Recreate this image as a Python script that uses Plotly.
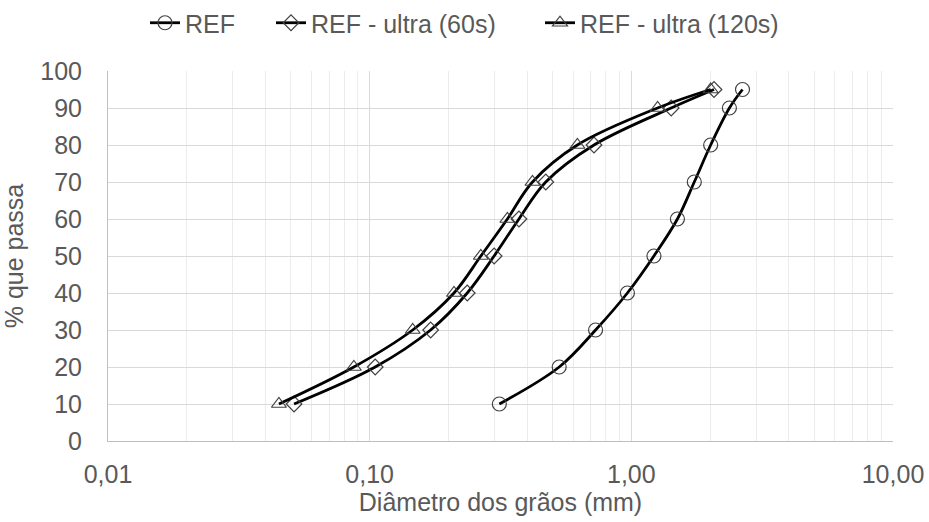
import plotly.graph_objects as go

pct = [10, 20, 30, 40, 50, 60, 70, 80, 90, 95]
ref_d = [0.313, 0.53, 0.73, 0.966, 1.22, 1.50, 1.74, 2.01, 2.37, 2.66]
ultra60_d = [0.0514, 0.105, 0.171, 0.236, 0.299, 0.372, 0.471, 0.72, 1.42, 2.07]
ultra120_d = [0.045, 0.087, 0.146, 0.210, 0.266, 0.336, 0.419, 0.622, 1.26, 2.01]

x_tickvals = [0.01, 0.1, 1, 10]
x_ticktext = ["0,01", "0,10", "1,00", "10,00"]

FONT = "Liberation Sans, Arial, sans-serif"
GRAY = "#595959"
FS = 25

fig = go.Figure()
series = [
    ("REF", ref_d, "circle-open", 14, "legend", 145),
    ("REF - ultra (60s)", ultra60_d, "diamond-open", 12, "legend2", 271),
    ("REF - ultra (120s)", ultra120_d, "triangle-up-open", 13, "legend3", 540),
]
legends = {}
for name, xs, sym, sz, lg, lx in series:
    fig.add_trace(go.Scatter(
        x=xs, y=pct, name=name, mode="lines+markers", legend=lg,
        line=dict(color="black", width=2.8, shape="spline", smoothing=1.0),
        marker=dict(symbol=sym, size=sz, color="#404040", line=dict(width=1.2, color="#404040")),
    ))
    legends[lg] = dict(orientation="h", x=lx / 929, xanchor="left", xref="container",
                       y=1.0, yanchor="top", yref="container",
                       font=dict(size=FS, color=GRAY), bgcolor="rgba(0,0,0,0)")

fig.update_layout(
    width=929, height=522,
    margin=dict(l=108, r=36, t=71, b=81, autoexpand=False),
    plot_bgcolor="white", paper_bgcolor="white",
    font=dict(family=FONT, size=FS, color=GRAY),
    showlegend=True,
    **legends,
)

fig.update_xaxes(
    type="log", range=[-2, 1], automargin=False,
    tickvals=x_tickvals, ticktext=x_ticktext,
    showgrid=True, gridcolor="#d9d9d9", gridwidth=1,
    minor=dict(dtick="D1", showgrid=True, gridcolor="#ececec", gridwidth=1, ticks=""),
    showline=True, linecolor="#bfbfbf", linewidth=1,
    ticks="", tickfont=dict(size=FS, color=GRAY), ticklabelstandoff=11,
    title=dict(text="Diâmetro dos grãos (mm)", font=dict(size=FS, color=GRAY), standoff=2),
    zeroline=False,
)
fig.update_yaxes(
    range=[0, 100], dtick=10, tick0=0, automargin=False,
    showgrid=True, gridcolor="#d9d9d9", gridwidth=1,
    showline=True, linecolor="#bfbfbf", linewidth=1,
    ticks="", tickfont=dict(size=FS, color=GRAY), ticklabelstandoff=20,
    title=dict(text="% que passa", font=dict(size=FS, color=GRAY), standoff=12),
    zeroline=False,
)

fig.write_html("out.html")
